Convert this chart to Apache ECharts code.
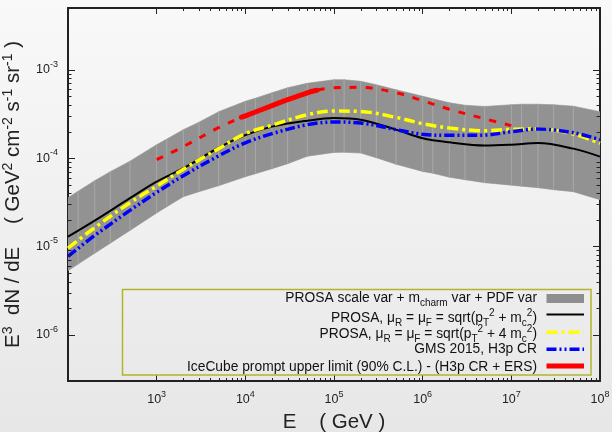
<!DOCTYPE html>
<html>
<head>
<meta charset="utf-8">
<script src="https://cdn.jsdelivr.net/npm/echarts@6/dist/echarts.min.js"></script>
<style>
  html, body { margin: 0; padding: 0; }
  #chart { width: 612px; height: 432px; }
</style>
</head>
<body>
<div id="chart"></div>
<script>
// band: PROSA scale var + m_charm var + PDF var (E in GeV, E^3 dN/dE)
var bandE  = [1e2, 1.3e2, 2e2, 3e2, 5e2, 1e3, 1.3e3, 2e3, 3e3, 5e3, 1e4, 1.3e4, 2e4, 3e4, 5e4,
              1e5, 1.3e5, 2e5, 3e5, 5e5, 1e6, 1.3e6, 2e6, 3e6, 5e6, 1e7, 1.3e7, 2e7, 3e7, 5e7, 1e8];
var bandHi = [3.56e-5, 4.22e-5, 5.55e-5, 7.02e-5, 9.23e-5, 1.42e-4, 1.64e-4, 2.10e-4, 2.55e-4, 3.35e-4,
              4.40e-4, 4.76e-4, 5.49e-4, 6.26e-4, 7.03e-4, 7.71e-4, 7.71e-4, 7.41e-4, 6.77e-4, 5.94e-4,
              5.01e-4, 4.70e-4, 4.23e-4, 3.97e-4, 3.84e-4, 4.02e-4, 4.07e-4, 4.07e-4, 4.02e-4, 3.87e-4, 3.35e-4];
var bandLo = [5.32e-6, 6.31e-6, 8.38e-6, 1.09e-5, 1.52e-5, 2.39e-5, 2.82e-5, 3.66e-5, 4.17e-5, 4.87e-5,
              6.16e-5, 6.66e-5, 7.59e-5, 8.64e-5, 1.05e-4, 1.16e-4, 1.165e-4, 1.14e-4, 1.01e-4, 8.53e-5,
              7.07e-5, 6.75e-5, 6.08e-5, 5.70e-5, 5.27e-5, 4.94e-5, 4.81e-5, 4.63e-5, 4.39e-5, 4.17e-5, 3.38e-5];

// central curves
var curveE   = [1e2, 2e2, 5e2, 1e3, 2e3, 5e3, 1e4, 2e4, 5e4, 1e5, 2e5, 5e5, 1e6, 2e6, 5e6, 1e7, 2e7, 5e7, 1e8];
var prosaMc  = [1.29e-5, 1.96e-5, 3.52e-5, 5.41e-5, 7.69e-5, 1.31e-4, 1.82e-4, 2.27e-4, 2.65e-4, 2.84e-4,
                2.72e-4, 2.10e-4, 1.68e-4, 1.51e-4, 1.39e-4, 1.42e-4, 1.48e-4, 1.28e-4, 1.04e-4];
var prosa4Mc = [9.57e-6, 1.63e-5, 3.13e-5, 4.81e-5, 7.49e-5, 1.28e-4, 1.89e-4, 2.36e-4, 3.10e-4, 3.41e-4,
                3.37e-4, 2.89e-4, 2.45e-4, 2.19e-4, 2.04e-4, 2.12e-4, 2.15e-4, 1.87e-4, 1.47e-4];
var gms2015  = [7.73e-6, 1.33e-5, 2.56e-5, 4.10e-5, 6.32e-5, 1.06e-4, 1.49e-4, 1.89e-4, 2.39e-4, 2.56e-4,
                2.50e-4, 2.10e-4, 1.86e-4, 1.81e-4, 1.82e-4, 1.99e-4, 2.13e-4, 1.94e-4, 1.61e-4];

// IceCube upper limit: dashed full range, solid in the sensitive range
var iceE      = [1e3, 2e3, 5e3, 1e4, 2e4, 5e4, 1e5, 2e5, 5e5, 1e6, 2e6, 5e6, 1e7];
var iceLimit  = [9.59e-5, 1.35e-4, 2.21e-4, 3.01e-4, 3.92e-4, 5.49e-4, 6.26e-4, 6.32e-4, 5.49e-4,
                 4.46e-4, 3.57e-4, 2.79e-4, 2.33e-4];
var iceSolidE = [9e3, 1e4, 2e4, 3e4, 5e4, 6.4e4];
var iceSolid  = [2.90e-4, 3.01e-4, 3.92e-4, 4.58e-4, 5.49e-4, 5.86e-4];

var xMin = 1e2, xMax = 1e8, yMin = 3e-7, yMax = 5e-3;

// minor tick values, only between labelled decades like the original
function minorVals(k0, k1) {
  var out = [];
  for (var k = k0; k < k1; k++) {
    for (var m = 2; m <= 9; m++) out.push(m * Math.pow(10, k));
  }
  return out;
}
var xMinor = minorVals(3, 8);
var yMinor = minorVals(-6, -3);

var FONT = 'Liberation Sans';
var AXIS = '#222';

function powLabel(v) {
  var e = Math.log10(v);
  var r = Math.round(e);
  if (Math.abs(e - r) > 1e-6) return '';
  return '{b|10}{s|' + r + '}';
}
var labelRich = {
  b: { fontSize: 12.5, fontFamily: FONT, color: AXIS, lineHeight: 20 },
  s: { fontSize: 9, fontFamily: FONT, color: AXIS, lineHeight: 10, verticalAlign: 'top' }
};

function majorAxis(pos, min, max, withLabels, tickLen) {
  return {
    type: 'log', position: pos, min: min, max: max,
    axisLine: { show: true, lineStyle: { color: AXIS, width: 2 } },
    axisTick: { show: true, inside: true, length: tickLen, lineStyle: { color: AXIS, width: 1 } },
    axisLabel: withLabels ? { show: true, formatter: powLabel, rich: labelRich, margin: (pos === 'bottom' ? 9 : 10),
                              showMinLabel: false }
                          : { show: false },
    splitLine: { show: false }
  };
}

var xBottom = majorAxis('bottom', xMin, xMax, true, 6);
xBottom.name = 'E    ( GeV )';
xBottom.nameLocation = 'middle';
xBottom.nameGap = 28;
xBottom.nameTextStyle = { fontSize: 20.5, fontFamily: FONT, color: AXIS };

var yLeft = majorAxis('left', yMin, yMax, true, 7);
yLeft.name = 'E{sup|3}  dN / dE    ( GeV{sup|2} cm{sup|-2} s{sup|-1} sr{sup|-1} )';
yLeft.nameLocation = 'middle';
yLeft.nameRotate = 90;
yLeft.nameGap = 37;
yLeft.nameTextStyle = {
  fontSize: 20.5, fontFamily: FONT, color: AXIS, lineHeight: 24,
  rich: { sup: { fontSize: 14, fontFamily: FONT, color: AXIS, lineHeight: 13, verticalAlign: 'top' } }
};

var legendRich = {
  sub: { fontSize: 10, fontFamily: FONT, fill: '#111', lineHeight: 10, verticalAlign: 'bottom' },
  sup: { fontSize: 10, fontFamily: FONT, fill: '#111', lineHeight: 10, verticalAlign: 'top' }
};
function legendText(y, txt) {
  return {
    type: 'text', x: 537, y: y, z: 20,
    style: { text: txt, fontSize: 13.8, fontFamily: FONT, fill: '#111', lineHeight: 20,
             align: 'right', verticalAlign: 'middle', rich: legendRich }
  };
}
function legendLine(y, color, width, dash) {
  return {
    type: 'line', z: 20,
    shape: { x1: 546.5, y1: y, x2: 584, y2: y },
    style: { stroke: color, lineWidth: width, lineDash: dash || null }
  };
}

// minor ticks drawn through the axes' own scales, on both sides of the frame
function minorTickSeries(vals, isX) {
  return {
    type: 'custom', xAxisIndex: 0, yAxisIndex: 0, clip: false, silent: true, z: 6,
    data: vals.map(function (v) { return [v]; }),
    renderItem: function (params, api) {
      var cs = params.coordSys;
      var v = vals[params.dataIndex];
      var s = { stroke: AXIS, lineWidth: 1 };
      if (isX) {
        var x = Math.round(api.coord([v, yMin])[0]) + 0.5;
        return { type: 'group', children: [
          { type: 'line', shape: { x1: x, y1: cs.y + cs.height, x2: x, y2: cs.y + cs.height - 3 }, style: s },
          { type: 'line', shape: { x1: x, y1: cs.y, x2: x, y2: cs.y + 3 }, style: s }
        ] };
      }
      var y = Math.round(api.coord([xMin, v])[1]) + 0.5;
      return { type: 'group', children: [
        { type: 'line', shape: { x1: cs.x, y1: y, x2: cs.x + 3.5, y2: y }, style: s },
        { type: 'line', shape: { x1: cs.x + cs.width, y1: y, x2: cs.x + cs.width - 3.5, y2: y }, style: s }
      ] };
    }
  };
}

var chart = echarts.init(document.getElementById('chart'));
chart.setOption({
  animation: false,
  backgroundColor: new echarts.graphic.LinearGradient(0, 0, 0, 1, [
    { offset: 0, color: '#f9f9f9' }, { offset: 1, color: '#e7e7e7' }
  ]),
  textStyle: { fontFamily: FONT },
  grid: { left: 68, right: 12, top: 8, bottom: 51, containLabel: false, outerBoundsMode: 'none' },
  xAxis: [
    xBottom,
    majorAxis('top', xMin, xMax, false, 6)
  ],
  yAxis: [
    yLeft,
    majorAxis('right', yMin, yMax, false, 7)
  ],
  series: [
    {
      name: 'PROSA scale var + m_charm var + PDF var',
      type: 'custom', xAxisIndex: 0, yAxisIndex: 0, clip: true, silent: true, z: 1,
      data: bandE.map(function (e, i) { return [e, bandLo[i], bandHi[i]]; }),
      encode: { x: 0, y: [1, 2] },
      renderItem: function (params, api) {
        var i = params.dataIndex;
        if (i >= bandE.length - 1) return null;
        var lo0 = api.coord([bandE[i], bandLo[i]]);
        var hi0 = api.coord([bandE[i], bandHi[i]]);
        var lo1 = api.coord([bandE[i + 1], bandLo[i + 1]]);
        var hi1 = api.coord([bandE[i + 1], bandHi[i + 1]]);
        var children = [{
          type: 'polygon',
          shape: { points: [lo0, lo1, hi1, hi0] },
          style: { fill: '#929292', stroke: '#929292', lineWidth: 0.6 }
        }];
        if (i > 0) {
          children.push({
            type: 'line',
            shape: { x1: lo0[0], y1: lo0[1], x2: hi0[0], y2: hi0[1] },
            style: { stroke: '#a8a8a8', lineWidth: 1 }
          });
        }
        return { type: 'group', children: children };
      }
    },
    {
      name: 'PROSA mu = sqrt(pT2 + mc2)', type: 'line', z: 3,
      data: curveE.map(function (e, i) { return [e, prosaMc[i]]; }),
      symbol: 'none', smooth: 0.35,
      lineStyle: { color: '#000', width: 2 }
    },
    {
      name: 'PROSA mu = sqrt(pT2 + 4 mc2)', type: 'line', z: 3,
      data: curveE.map(function (e, i) { return [e, prosa4Mc[i]]; }),
      symbol: 'none', smooth: 0.35,
      lineStyle: { color: '#ffff00', width: 3.5, type: [11, 4, 3, 4] }
    },
    {
      name: 'GMS 2015, H3p CR', type: 'line', z: 3,
      data: curveE.map(function (e, i) { return [e, gms2015[i]]; }),
      symbol: 'none', smooth: 0.35,
      lineStyle: { color: '#0000ff', width: 3.5, type: [10, 3, 2, 3, 2, 3] }
    },
    {
      name: 'IceCube limit (extended)', type: 'line', z: 4,
      data: iceE.map(function (e, i) { return [e, iceLimit[i]]; }),
      symbol: 'none', smooth: 0.35,
      lineStyle: { color: '#ff0000', width: 3, type: [7, 9] }
    },
    {
      name: 'IceCube prompt upper limit', type: 'line', z: 4,
      data: iceSolidE.map(function (e, i) { return [e, iceSolid[i]]; }),
      symbol: 'none', smooth: 0.35,
      lineStyle: { color: '#ff0000', width: 5, cap: 'round' }
    },
    minorTickSeries(xMinor, true),
    minorTickSeries(yMinor, false)
  ],
  graphic: [
    { type: 'rect', z: 20, shape: { x: 122.5, y: 289.5, width: 468.5, height: 85.5 },
      style: { fill: 'none', stroke: '#b4b42c', lineWidth: 1.5 } },
    { type: 'rect', z: 20, shape: { x: 546.5, y: 294, width: 37.5, height: 9 }, style: { fill: '#8e8e8e' } },
    legendLine(314.5, '#000', 2),
    legendLine(332.3, '#ffff00', 3.5, [11, 4, 3, 4]),
    legendLine(349.3, '#0000ff', 3.5, [10, 3, 2, 3, 2, 3]),
    legendLine(366, '#ff0000', 5),
    legendText(298, 'PROSA scale var + m{sub|charm} var + PDF var'),
    legendText(318, 'PROSA, \u03bc{sub|R} = \u03bc{sub|F} = sqrt(p{sub|T}{sup|2} + m{sub|c}{sup|2})'),
    legendText(334, 'PROSA, \u03bc{sub|R} = \u03bc{sub|F} = sqrt(p{sub|T}{sup|2} + 4 m{sub|c}{sup|2})'),
    legendText(349.5, 'GMS 2015, H3p CR'),
    legendText(367, 'IceCube prompt upper limit (90% C.L.) - (H3p CR + ERS)')
  ]
});
</script>
</body>
</html>
